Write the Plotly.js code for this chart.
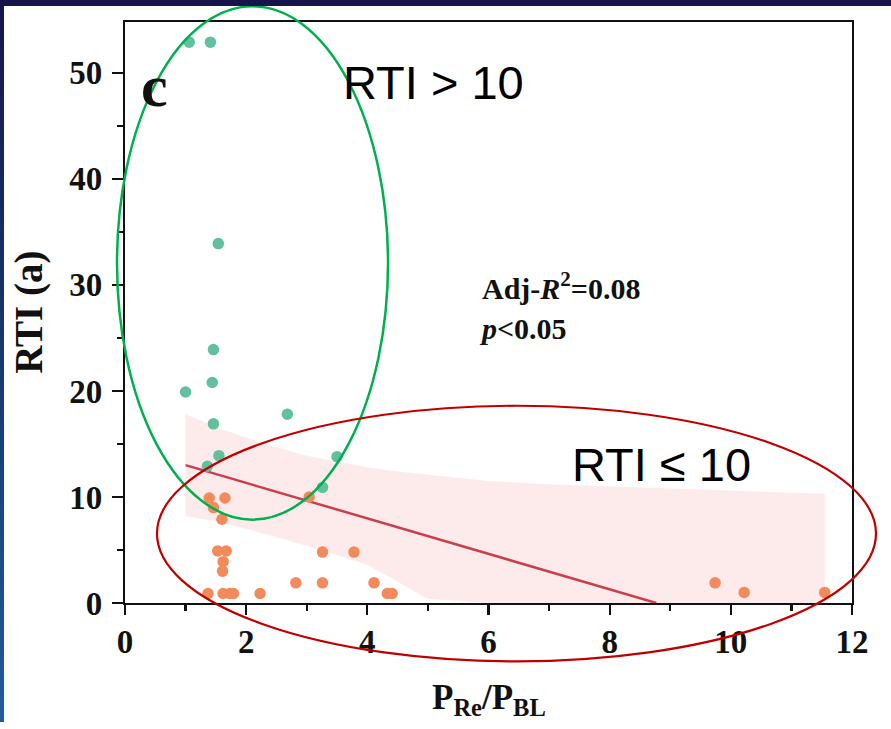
<!DOCTYPE html>
<html>
<head>
<meta charset="utf-8">
<script src="https://cdn.plot.ly/plotly-3.0.1.min.js"></script>
<style>
  html, body { margin: 0; padding: 0; background: #ffffff; width: 891px; height: 729px; overflow: hidden; }
  #frame { position: absolute; left: 0; top: 0; width: 891px; height: 722px; background: #15154c; overflow: hidden; }
  #stripe { position: absolute; left: 0; top: 0; width: 4px; height: 722px; background: linear-gradient(#15154c, #1b3f78 60%, #1f5c9c); }
  #chart { position: absolute; left: 4px; top: 6px; width: 887px; height: 716px; background: #ffffff; overflow: hidden; }
</style>
</head>
<body>
<div id="frame"><div id="stripe"></div><div id="chart"></div></div>
<script>
// RTI > 10 group (teal)
const highX = [1.06, 1.41, 1.54, 1.46, 1.44, 1.00, 1.46, 2.68, 1.55, 3.50, 1.36, 3.26];
const highY = [52.9, 52.9, 33.9, 23.9, 20.8, 19.9, 16.9, 17.8, 13.9, 13.8, 12.9, 10.9];

// RTI <= 10 group (orange)
const lowX = [1.39, 1.65, 1.46, 1.60, 3.04, 1.53, 1.67, 1.62, 1.61, 3.26, 3.78, 2.82, 3.26, 4.11, 4.33, 4.41, 1.37, 1.62, 1.73, 1.79, 2.23, 9.74, 10.22, 11.55];
const lowY = [9.9, 9.9, 9.0, 7.9, 10.0, 4.9, 4.9, 3.9, 3.0, 4.8, 4.8, 1.9, 1.9, 1.9, 0.9, 0.9, 0.9, 0.9, 0.9, 0.9, 0.9, 1.9, 1.0, 1.0];

// Linear fit
const fitX = [1.0, 8.77];
const fitY = [13.0, 0.0];

// Confidence band
const bandX = [1.0, 1.5, 2.0, 2.5, 3.0, 4.0, 4.5, 5.0, 6.0, 7.0, 8.0, 9.0, 10.0, 11.0, 11.55];
const bandUpper = [17.8, 16.6, 15.6, 14.7, 13.9, 12.8, 12.4, 12.1, 11.5, 11.2, 11.0, 10.8, 10.6, 10.4, 10.3];
const bandLower = [8.2, 7.7, 7.0, 6.2, 5.4, 3.6, 2.0, 0.4, 0, 0, 0, 0, 0, 0, 0];

const xTickVals = [0, 2, 4, 6, 8, 10, 12];
const yTickVals = [0, 10, 20, 30, 40, 50];

const serif = "Liberation Serif, Times New Roman, serif";
const sans = "Liberation Sans, Arial, sans-serif";

const polyX = bandX.concat(bandX.slice().reverse());
const polyY = bandUpper.concat(bandLower.slice().reverse());

const traces = [
  { x: polyX, y: polyY, type: 'scatter', mode: 'lines', fill: 'toself',
    fillcolor: 'rgba(245,165,165,0.22)', line: { width: 0, color: 'rgba(0,0,0,0)' }, hoverinfo: 'skip' },
  { x: fitX, y: fitY, type: 'scatter', mode: 'lines', line: { color: '#c8404e', width: 2.5 } },
  { x: lowX, y: lowY, type: 'scatter', mode: 'markers', marker: { color: '#f28a5c', size: 11.5 } },
  { x: highX, y: highY, type: 'scatter', mode: 'markers', marker: { color: '#62c09f', size: 11.5 } }
];

const layout = {
  width: 887, height: 716,
  margin: { l: 121, r: 39, t: 16, b: 118.5 },
  paper_bgcolor: '#ffffff', plot_bgcolor: '#ffffff',
  showlegend: false,
  xaxis: {
    range: [0, 12], tickvals: xTickVals, ticktext: xTickVals.map(String),
    showgrid: false, zeroline: false, showline: true, linecolor: '#111', linewidth: 2.2, mirror: true,
    ticks: 'outside', ticklen: 10, tickwidth: 2.2, tickcolor: '#111',
    minor: { dtick: 1, tick0: 0, ticks: 'outside', ticklen: 6, tickwidth: 2.2, tickcolor: '#111', showgrid: false },
    tickfont: { family: serif, size: 33, color: '#111', weight: 'bold' },
    ticklabelstandoff: -2
  },
  yaxis: {
    range: [0, 54.8], tickvals: yTickVals, ticktext: yTickVals.map(String),
    showgrid: false, zeroline: false, showline: true, linecolor: '#111', linewidth: 2.2, mirror: true,
    ticks: 'outside', ticklen: 11, tickwidth: 2.2, tickcolor: '#111',
    minor: { dtick: 5, tick0: 0, ticks: 'outside', ticklen: 6, tickwidth: 2.2, tickcolor: '#111', showgrid: false },
    tickfont: { family: serif, size: 33, color: '#111', weight: 'bold' },
    ticklabelstandoff: 3
  },
  shapes: [
    { type: 'circle', xref: 'paper', yref: 'paper', x0: -0.011, x1: 0.3618, y0: 0.1435, y1: 1.027,
      line: { color: '#00b04f', width: 2.5 }, fillcolor: 'rgba(0,0,0,0)' },
    { type: 'circle', xref: 'paper', yref: 'paper', x0: 0.044, x1: 1.033, y0: -0.1005, y1: 0.3395,
      line: { color: '#c00000', width: 2.2 }, fillcolor: 'rgba(0,0,0,0)' }
  ],
  annotations: [
    { text: 'c', xref: 'paper', yref: 'paper', x: 0.04, y: 0.889, xanchor: 'center', yanchor: 'middle',
      showarrow: false, font: { family: serif, size: 60, color: '#111', weight: 'bold' } },
    { text: 'RTI > 10', xref: 'paper', yref: 'paper', x: 0.2965, y: 0.896, xanchor: 'left', yanchor: 'middle',
      showarrow: false, font: { family: sans, size: 47, color: '#000' } },
    { text: 'RTI ≤ 10', xref: 'paper', yref: 'paper', x: 0.6115, y: 0.239, xanchor: 'left', yanchor: 'middle',
      showarrow: false, font: { family: sans, size: 47, color: '#000' } },
    { text: '<b>Adj-<i>R</i><sup>2</sup>=0.08</b>', xref: 'paper', yref: 'paper', x: 0.4885, y: 0.546,
      xanchor: 'left', yanchor: 'middle', align: 'left', showarrow: false,
      font: { family: serif, size: 30, color: '#111' } },
    { text: '<b><i>p</i>&lt;0.05</b>', xref: 'paper', yref: 'paper', x: 0.484, y: 0.472,
      xanchor: 'left', yanchor: 'middle', align: 'left', showarrow: false,
      font: { family: serif, size: 30, color: '#111' } },
    { text: '<b>RTI (a)</b>', xref: 'paper', yref: 'paper', x: -0.133, y: 0.5, xanchor: 'center', yanchor: 'middle',
      textangle: -90, showarrow: false, font: { family: serif, size: 39, color: '#111' } },
    { text: '<b>P<sub>Re</sub>/P<sub>BL</sub></b>', xref: 'paper', yref: 'paper', x: 0.5, y: -0.125,
      xanchor: 'center', yanchor: 'top', showarrow: false, font: { family: serif, size: 35, color: '#111' } }
  ]
};

Plotly.newPlot('chart', traces, layout, { displayModeBar: false, staticPlot: true });
</script>
</body>
</html>
